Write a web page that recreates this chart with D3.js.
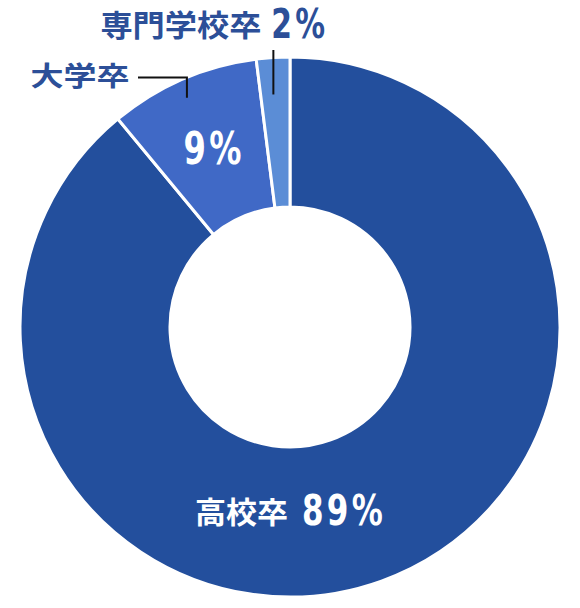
<!DOCTYPE html>
<html>
<head>
<meta charset="utf-8">
<script src="https://cdn.jsdelivr.net/npm/d3@7"></script>
<style>
  body { margin: 0; background: #fff; }
</style>
</head>
<body>
<div id="chart"></div>
<script>
// data
const categories = ["高校卒", "大学卒", "専門学校卒"];
const shares = [89, 9, 2];
const shareLabels = ["89%", "9%", "2%"];
const sliceColors = ["#234f9d", "#4069c6", "#5b8dd6"];

// display specifications
const width = 580, height = 608;
const cx = 290, cy = 327;
const outerR = 270, innerR = 120;

const jpFont = "'Noto Sans CJK JP', 'Noto Sans CJK SC', sans-serif";
const numFont = "'Liberation Sans Narrow', 'DejaVu Sans Condensed', 'Roboto', sans-serif";
const labelInk = "#2c4f98";

const svg = d3.select("#chart")
  .append("svg")
  .attr("width", width)
  .attr("height", height);

const g = svg.append("g")
  .attr("transform", "translate(" + cx + "," + cy + ")");

const pie = d3.pie().sort(null).value(d => d);
const arcs = pie(shares);
const arc = d3.arc().innerRadius(innerR).outerRadius(outerR);

// slices
g.selectAll("path.slice")
  .data(arcs)
  .enter()
  .append("path")
  .attr("class", "slice")
  .attr("d", arc)
  .attr("fill", (d, i) => sliceColors[i])
  .attr("stroke", "#fff")
  .attr("stroke-width", 3);

// point on the middle of a slice at radius r
function midPoint(d, r) {
  const a = (d.startAngle + d.endAngle) / 2;
  return [Math.sin(a) * r, -Math.cos(a) * r];
}

function addText(x, y, str, opts) {
  const t = g.append("text")
    .attr("x", x)
    .attr("y", y)
    .text(str)
    .attr("fill", opts.fill)
    .style("font-family", opts.font)
    .style("font-weight", opts.weight || "bold")
    .style("font-size", opts.size + "px")
    .style("letter-spacing", (opts.spacing || 0) + "px")
    .attr("textLength", opts.len)
    .attr("lengthAdjust", "spacingAndGlyphs");
  if (opts.central) t.attr("dominant-baseline", "central");
  return t;
}

// 高校卒 89% : inside the big slice at the bottom
const bigY = 183;
addText(-95, bigY, categories[0], {fill: "#fff", font: jpFont, size: 30, len: 93, central: true});
addText(12, bigY + 15, shareLabels[0], {fill: "#fff", font: numFont, size: 42, len: 84, spacing: 4, weight: 600});

// 9% inside the medium slice, 大学卒 outside with an elbow leader
const c1 = midPoint(arcs[1], (innerR + outerR) / 2);
addText(c1[0] - 29, c1[1] + 15.5, shareLabels[1], {fill: "#fff", font: numFont, size: 44, len: 61, spacing: 4, weight: 600});

const p1 = midPoint(arcs[1], 252);
const elbowY = 77.5 - cy;
const lineLeft = 138 - cx;
g.append("path")
  .attr("d", d3.line()([[p1[0] - 3, p1[1] + 2], [p1[0] - 3, elbowY], [lineLeft, elbowY]]))
  .attr("fill", "none")
  .attr("stroke", "#111")
  .attr("stroke-width", 2);
addText(lineLeft - 8.5 - 99, elbowY - 3, categories[1], {fill: labelInk, font: jpFont, size: 27, len: 99, central: true});

// 専門学校卒 2% above the small slice with a vertical leader
const p2 = midPoint(arcs[2], 233);
const topY = 50 - cy;
g.append("line")
  .attr("x1", p2[0] - 2).attr("y1", p2[1])
  .attr("x2", p2[0] - 2).attr("y2", topY)
  .attr("stroke", "#111")
  .attr("stroke-width", 2);
addText(p2[0] - 4, 38 - cy, shareLabels[2], {fill: labelInk, font: numFont, size: 41, len: 57, spacing: 4, weight: 600});
addText(p2[0] - 14 - 161, 23 - cy, categories[2], {fill: labelInk, font: jpFont, size: 30, len: 161, central: true});
</script>
</body>
</html>
